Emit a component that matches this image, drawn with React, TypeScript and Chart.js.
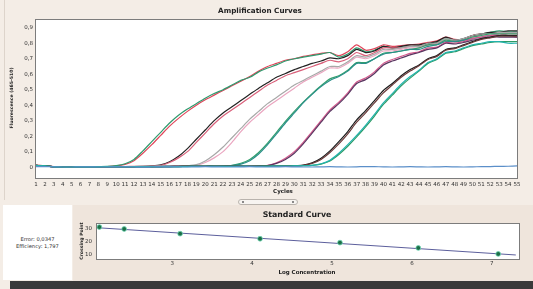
import React, { useEffect, useRef } from "react";
import { Chart, registerables } from "chart.js";
Chart.register(...registerables);

// ---------- Amplification curves data ----------
const cycles = [1,2,3,4,5,6,7,8,9,10,11,12,13,14,15,16,17,18,19,20,21,22,23,24,25,26,27,28,29,30,31,32,33,34,35,36,37,38,39,40,41,42,43,44,45,46,47,48,49,50,51,52,53,54,55];
const ampYTicks = [0,0.05,0.1,0.15,0.2,0.25,0.3,0.35,0.4,0.45,0.5,0.55,0.6,0.65,0.7,0.75,0.8,0.85,0.9];

const curveA1 = [0.012,0.009,0.002,0.000,0.001,0.002,0.003,0.003,0.004,0.008, 0.018,0.042,0.090,0.145,0.205,0.265,0.315,0.360,0.400,0.435, 0.465,0.495,0.525,0.555,0.585,0.620,0.650,0.670,0.690,0.700, 0.715,0.725,0.735,0.740,0.720,0.745,0.790,0.755,0.765,0.790, 0.780,0.785,0.790,0.795,0.805,0.815,0.840,0.825,0.825,0.850, 0.860,0.865,0.870,0.865,0.865];
const curveA2 = [0.010,0.008,0.003,0.001,0.002,0.002,0.003,0.004,0.005,0.010, 0.022,0.050,0.105,0.165,0.225,0.285,0.335,0.375,0.410,0.445, 0.475,0.500,0.530,0.560,0.580,0.615,0.640,0.660,0.685,0.700, 0.710,0.720,0.730,0.740,0.710,0.730,0.770,0.745,0.755,0.780, 0.770,0.775,0.780,0.785,0.795,0.805,0.830,0.815,0.820,0.840, 0.860,0.870,0.880,0.875,0.875];
const curveB1 = [0.011,0.008,0.002,0.000,0.001,0.002,0.002,0.003,0.003,0.003, 0.004,0.004,0.005,0.008,0.015,0.035,0.070,0.120,0.180,0.240, 0.300,0.350,0.390,0.430,0.470,0.510,0.545,0.580,0.605,0.630, 0.650,0.670,0.685,0.705,0.700,0.720,0.760,0.740,0.750,0.780, 0.770,0.780,0.790,0.790,0.800,0.810,0.840,0.820,0.830,0.850, 0.860,0.870,0.870,0.880,0.880];
const curveB2 = [0.012,0.009,0.003,0.001,0.001,0.002,0.003,0.003,0.003,0.004, 0.004,0.005,0.005,0.007,0.012,0.030,0.060,0.100,0.160,0.220, 0.280,0.330,0.370,0.410,0.450,0.490,0.530,0.560,0.590,0.610, 0.630,0.650,0.670,0.690,0.680,0.700,0.740,0.720,0.740,0.770, 0.770,0.770,0.780,0.780,0.790,0.800,0.820,0.810,0.820,0.840, 0.850,0.850,0.860,0.860,0.860];
const curveC1 = [0.010,0.008,0.002,0.001,0.001,0.002,0.002,0.003,0.003,0.003, 0.003,0.004,0.004,0.004,0.005,0.005,0.006,0.008,0.012,0.030, 0.060,0.100,0.160,0.230,0.290,0.340,0.390,0.430,0.470,0.510, 0.550,0.580,0.610,0.640,0.640,0.670,0.710,0.700,0.720,0.750, 0.750,0.760,0.770,0.770,0.790,0.790,0.820,0.810,0.820,0.840, 0.850,0.850,0.860,0.860,0.860];
const curveC2 = [0.011,0.009,0.003,0.001,0.002,0.002,0.003,0.003,0.003,0.004, 0.004,0.004,0.005,0.005,0.005,0.006,0.007,0.009,0.016,0.040, 0.080,0.130,0.190,0.250,0.310,0.360,0.410,0.450,0.490,0.530, 0.560,0.590,0.620,0.650,0.650,0.680,0.720,0.710,0.730,0.760, 0.760,0.770,0.780,0.780,0.800,0.800,0.830,0.820,0.830,0.850, 0.860,0.860,0.870,0.870,0.870];
const curveD1 = [0.010,0.008,0.002,0.000,0.001,0.002,0.002,0.002,0.003,0.003, 0.003,0.003,0.004,0.004,0.004,0.005,0.005,0.005,0.006,0.006, 0.007,0.008,0.012,0.025,0.050,0.095,0.155,0.225,0.295,0.360, 0.420,0.475,0.525,0.570,0.590,0.625,0.675,0.675,0.700,0.735, 0.740,0.750,0.760,0.770,0.790,0.790,0.820,0.810,0.820,0.840, 0.850,0.860,0.860,0.860,0.860];
const curveD2 = [0.011,0.008,0.003,0.001,0.001,0.002,0.002,0.003,0.003,0.003, 0.003,0.004,0.004,0.004,0.005,0.005,0.005,0.006,0.006,0.006, 0.007,0.008,0.010,0.020,0.042,0.085,0.145,0.215,0.285,0.350, 0.415,0.470,0.520,0.560,0.585,0.620,0.670,0.670,0.700,0.730, 0.740,0.750,0.760,0.760,0.780,0.790,0.810,0.810,0.820,0.830, 0.840,0.850,0.850,0.850,0.850];
const curveE1 = [0.010,0.008,0.002,0.001,0.001,0.002,0.002,0.003,0.003,0.003, 0.003,0.003,0.004,0.004,0.004,0.004,0.005,0.005,0.005,0.005, 0.006,0.006,0.006,0.007,0.007,0.008,0.012,0.028,0.058,0.100, 0.160,0.230,0.300,0.370,0.420,0.480,0.550,0.575,0.615,0.670, 0.695,0.715,0.735,0.745,0.770,0.775,0.805,0.800,0.810,0.830, 0.840,0.850,0.850,0.850,0.840];
const curveE2 = [0.011,0.009,0.003,0.001,0.002,0.002,0.003,0.003,0.003,0.003, 0.003,0.004,0.004,0.004,0.004,0.005,0.005,0.005,0.005,0.006, 0.006,0.006,0.007,0.007,0.007,0.008,0.010,0.024,0.050,0.090, 0.150,0.220,0.290,0.360,0.410,0.470,0.540,0.565,0.605,0.660, 0.685,0.705,0.725,0.740,0.760,0.770,0.800,0.795,0.805,0.820, 0.830,0.840,0.840,0.840,0.840];
const curveF1 = [0.010,0.008,0.002,0.000,0.001,0.001,0.002,0.002,0.003,0.003, 0.003,0.003,0.003,0.004,0.004,0.004,0.004,0.005,0.005,0.005, 0.005,0.005,0.006,0.006,0.006,0.006,0.007,0.007,0.008,0.009, 0.013,0.028,0.058,0.105,0.165,0.230,0.305,0.365,0.430,0.495, 0.540,0.590,0.630,0.660,0.700,0.720,0.760,0.770,0.790,0.810, 0.830,0.840,0.850,0.850,0.850];
const curveF2 = [0.011,0.009,0.003,0.001,0.001,0.002,0.002,0.003,0.003,0.003, 0.003,0.003,0.004,0.004,0.004,0.004,0.005,0.005,0.005,0.005, 0.005,0.006,0.006,0.006,0.006,0.007,0.007,0.008,0.008,0.009, 0.012,0.024,0.050,0.095,0.150,0.215,0.290,0.350,0.415,0.480, 0.530,0.580,0.620,0.655,0.695,0.715,0.755,0.765,0.785,0.805, 0.825,0.835,0.845,0.845,0.845];
const curveG1 = [0.010,0.008,0.002,0.001,0.001,0.002,0.002,0.002,0.003,0.003, 0.003,0.003,0.003,0.004,0.004,0.004,0.004,0.004,0.005,0.005, 0.005,0.005,0.005,0.006,0.006,0.006,0.006,0.007,0.007,0.008, 0.009,0.012,0.022,0.045,0.090,0.145,0.205,0.270,0.340,0.415, 0.475,0.535,0.585,0.625,0.675,0.700,0.740,0.750,0.770,0.790, 0.800,0.810,0.810,0.800,0.800];
const curveG2 = [0.011,0.008,0.003,0.001,0.001,0.002,0.002,0.003,0.003,0.003, 0.003,0.003,0.004,0.004,0.004,0.004,0.004,0.005,0.005,0.005, 0.005,0.005,0.006,0.006,0.006,0.006,0.007,0.007,0.007,0.008, 0.009,0.011,0.020,0.040,0.082,0.135,0.195,0.260,0.330,0.405, 0.465,0.525,0.575,0.620,0.670,0.695,0.735,0.745,0.765,0.785, 0.795,0.805,0.810,0.810,0.810];
const curveNeg = [0.004,0.003,0.002,0.001,0.001,0.002,0.002,0.001,0.001,0.002, 0.002,0.001,0.000,0.001,0.002,0.002,0.001,0.001,0.002,0.003, 0.002,0.001,0.001,0.002,0.003,0.002,0.001,0.002,0.003,0.002, 0.001,0.001,0.002,0.003,0.002,0.001,0.002,0.004,0.003,0.002, 0.001,0.002,0.003,0.002,0.001,0.002,0.003,0.002,0.001,0.002, 0.003,0.004,0.005,0.006,0.008];

const curveSeries = [
  { values: curveNeg, color: "#5b8fc9" },
  { values: curveG1, color: "#22b3ad" },
  { values: curveG2, color: "#2e9a64" },
  { values: curveF2, color: "#6a3a3a" },
  { values: curveF1, color: "#1c1c1c" },
  { values: curveE2, color: "#5a3560" },
  { values: curveE1, color: "#d4588c" },
  { values: curveD2, color: "#2a8f8a" },
  { values: curveD1, color: "#33a06c" },
  { values: curveC2, color: "#a8a8a8" },
  { values: curveC1, color: "#eaa6c0" },
  { values: curveB2, color: "#d9607a" },
  { values: curveB1, color: "#222222" },
  { values: curveA2, color: "#2f9a6e" },
  { values: curveA1, color: "#e0455a" },
];

// ---------- Standard curve data ----------
const logConc = [2.09, 2.4, 3.1, 4.1, 5.1, 6.08, 7.08];
const crossingPoint = [31.5, 30.0, 26.4, 22.5, 19.5, 15.4, 10.8];
const fitLineX = [2.06, 7.3];
const fitLineY = [31.0, 10.0];
const stdXTicks = [3, 4, 5, 6, 7];
const stdYTicks = [10, 20, 30];
const errorText = "Error: 0,0347";
const efficiencyText = "Efficiency: 1,797";

const FONT = "'DejaVu Sans', Verdana, sans-serif";

const framePlugin = {
  id: "frameBox",
  beforeDraw(chart: any) {
    const { ctx, chartArea } = chart;
    ctx.save();
    ctx.fillStyle = "#ffffff";
    ctx.fillRect(chartArea.left, chartArea.top, chartArea.right - chartArea.left, chartArea.bottom - chartArea.top);
    ctx.restore();
  },
  afterDraw(chart: any) {
    const { ctx, chartArea } = chart;
    ctx.save();
    ctx.strokeStyle = "#7c7c7c";
    ctx.lineWidth = 1;
    ctx.strokeRect(chartArea.left - 0.5, chartArea.top - 0.5, chartArea.right - chartArea.left + 1, chartArea.bottom - chartArea.top + 1);
    ctx.restore();
  },
};

const fmtComma = (v: number) => String(v).replace(".", ",");

function AmpChart() {
  const ref = useRef<HTMLCanvasElement>(null);
  useEffect(() => {
    const chart = new Chart(ref.current!, {
      type: "line",
      data: {
        labels: cycles.map(String),
        datasets: curveSeries.map((s) => ({
          data: s.values,
          borderColor: s.color,
          borderWidth: 1.2,
          pointRadius: 0,
          tension: 0.25,
          fill: false,
        })),
      },
      options: {
        animation: false,
        responsive: false,
        maintainAspectRatio: false,
        layout: { padding: { top: 20, right: 16, left: 0, bottom: 0 } },
        plugins: { legend: { display: false }, tooltip: { enabled: false } },
        scales: {
          x: {
            type: "category",
            offset: false,
            grid: { display: false, drawTicks: false },
            border: { display: false },
            ticks: { autoSkip: false, maxRotation: 0, minRotation: 0, padding: 3, color: "#333", font: { size: 5.5, family: FONT } },
            afterFit: (s: any) => { s.height = 22; },
          },
          y: {
            type: "linear",
            min: -0.07,
            max: 0.95,
            grid: { display: false, drawTicks: false },
            border: { display: false },
            afterBuildTicks: (s: any) => { s.ticks = ampYTicks.map((v) => ({ value: v })); },
            ticks: { padding: 3, color: "#333", font: { size: 5.5, family: FONT }, callback: (v: any) => fmtComma(Number(v)) },
            afterFit: (s: any) => { s.width = 36; },
          },
        },
      },
      plugins: [framePlugin],
    } as any);
    return () => chart.destroy();
  }, []);
  return <canvas ref={ref} width={533} height={200} style={{ position: "absolute", left: 0, top: 0, width: 533, height: 200 }} />;
}

function StdChart() {
  const ref = useRef<HTMLCanvasElement>(null);
  useEffect(() => {
    const chart = new Chart(ref.current!, {
      type: "scatter",
      data: {
        datasets: [
          {
            data: logConc.map((x, i) => ({ x, y: crossingPoint[i] })),
            pointRadius: 2.4,
            pointBackgroundColor: "#1d6e47",
            pointBorderColor: "#6fd6b4",
            pointBorderWidth: 0.8,
            showLine: false,
          },
          {
            data: fitLineX.map((x, i) => ({ x, y: fitLineY[i] })),
            showLine: true,
            borderColor: "#5c5f9c",
            borderWidth: 1,
            pointRadius: 0,
          },
        ],
      },
      options: {
        animation: false,
        responsive: false,
        maintainAspectRatio: false,
        layout: { padding: { top: 19, right: 14, left: 0, bottom: 0 } },
        plugins: { legend: { display: false }, tooltip: { enabled: false } },
        scales: {
          x: {
            type: "linear",
            min: 2.06,
            max: 7.34,
            grid: { display: false, drawTicks: false },
            border: { display: false },
            afterBuildTicks: (s: any) => { s.ticks = stdXTicks.map((v) => ({ value: v })); },
            ticks: { padding: 1, color: "#333", font: { size: 5.5, family: FONT } },
            afterFit: (s: any) => { s.height = 21; },
          },
          y: {
            type: "linear",
            min: 6.9,
            max: 33.85,
            grid: { display: false, drawTicks: false },
            border: { display: false },
            afterBuildTicks: (s: any) => { s.ticks = stdYTicks.map((v) => ({ value: v })); },
            ticks: { padding: 5, color: "#333", font: { size: 5.5, family: FONT } },
            afterFit: (s: any) => { s.width = 97; },
          },
        },
      },
      plugins: [framePlugin],
    } as any);
    return () => chart.destroy();
  }, []);
  return <canvas ref={ref} width={533} height={75} style={{ position: "absolute", left: 0, top: 205, width: 533, height: 75 }} />;
}

const abs = (o: any): React.CSSProperties => ({ position: "absolute", ...o });

export default function App() {
  return (
    <div style={abs({ left: 0, top: 0, width: 533, height: 289, background: "#f4ede6", overflow: "hidden", fontFamily: FONT })}>
      <div style={abs({ left: 4, top: 0, width: 1, height: 200, background: "#ddd4cb" })} />
      <div style={abs({ left: 73, top: 205, width: 460, height: 76, background: "#efe5dc" })} />
      <div style={abs({ left: 3, top: 205, width: 69, height: 75, background: "#ffffff" })} />
      <div style={abs({ left: 3, top: 236, width: 69, textAlign: "center", fontSize: 5.2, lineHeight: "6.5px", color: "#333" })}>
        <div>{errorText}</div>
        <div>{efficiencyText}</div>
      </div>
      <div style={abs({ left: 10, top: 281, width: 523, height: 8, background: "#3a3a3a" })} />
      <div style={abs({ left: 0, top: 0, width: 533, height: 289 })}>
        <AmpChart />
        <StdChart />
      </div>
      <div style={abs({ left: 160, top: 6, width: 200, textAlign: "center", fontSize: 7.2, fontWeight: "bold", color: "#222", lineHeight: "9px" })}>Amplification Curves</div>
      <div style={abs({ left: 12, top: 98, width: 0, height: 0 })}>
        <div style={abs({ left: -50, top: -4, width: 100, textAlign: "center", fontSize: 4.6, fontWeight: "bold", color: "#222", lineHeight: "8px", transform: "rotate(-90deg)" })}>Fluorescence (465-510)</div>
      </div>
      <div style={abs({ left: 233, top: 187, width: 100, textAlign: "center", fontSize: 5.5, fontWeight: "bold", color: "#222", lineHeight: "8px" })}>Cycles</div>
      <div style={abs({ left: 238, top: 199, width: 58, height: 4, border: "1px solid #b9b3ad", borderRadius: 3, background: "#f7f4f1" })}>
        <div style={abs({ left: 3, top: 1, width: 2, height: 2, background: "#666", borderRadius: 1 })} />
        <div style={abs({ right: 3, top: 1, width: 2, height: 2, background: "#666", borderRadius: 1 })} />
      </div>
      <div style={abs({ left: 197, top: 210, width: 200, textAlign: "center", fontSize: 7.8, fontWeight: "bold", color: "#222", lineHeight: "10px" })}>Standard Curve</div>
      <div style={abs({ left: 82, top: 241, width: 0, height: 0 })}>
        <div style={abs({ left: -30, top: -4, width: 60, textAlign: "center", fontSize: 4.6, fontWeight: "bold", color: "#222", lineHeight: "8px", transform: "rotate(-90deg)" })}>Crossing Point</div>
      </div>
      <div style={abs({ left: 247, top: 268, width: 120, textAlign: "center", fontSize: 5.5, fontWeight: "bold", color: "#222", lineHeight: "8px" })}>Log Concentration</div>
    </div>
  );
}
